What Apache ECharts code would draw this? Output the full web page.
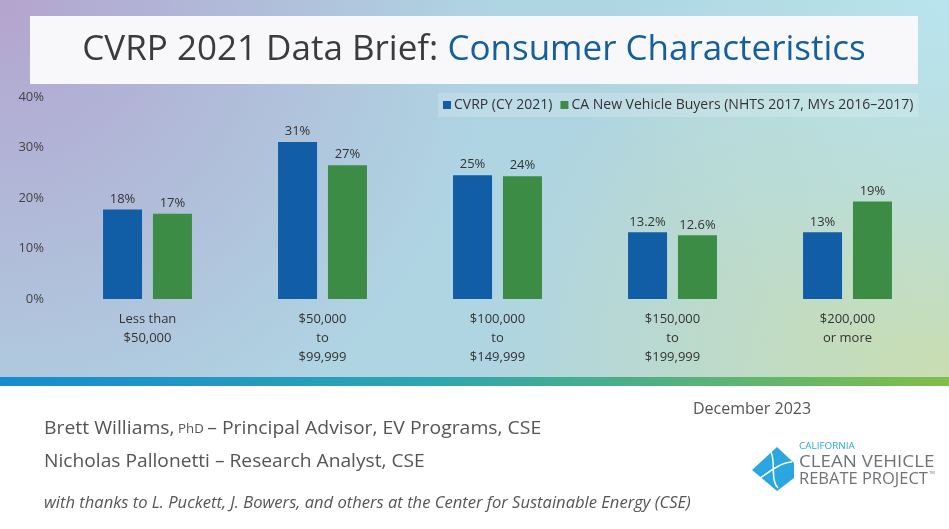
<!DOCTYPE html>
<html>
<head>
<meta charset="utf-8">
<script src="https://cdn.jsdelivr.net/npm/echarts@6/dist/echarts.min.js"></script>
<style>
html,body{margin:0;padding:0;background:#fff;}
#chart{width:949px;height:529px;}
</style>
</head>
<body>
<div id="chart"></div>
<script>
// ---- data ----
const categories = ['Less than\n$50,000', '$50,000\nto\n$99,999', '$100,000\nto\n$149,999', '$150,000\nto\n$199,999', '$200,000\nor more'];
const seriesNames = ['CVRP (CY 2021)', 'CA New Vehicle Buyers (NHTS 2017, MYs 2016\u20132017)'];
const cvrpValues = [17.7, 31.1, 24.5, 13.2, 13.2];
const caBuyerValues = [16.9, 26.5, 24.3, 12.6, 19.3];
const cvrpLabels = ['18%', '31%', '25%', '13.2%', '13%'];
const caBuyerLabels = ['17%', '27%', '24%', '12.6%', '19%'];
const yTickValues = [0, 10, 20, 30, 40];
const titleDark = 'CVRP 2021 Data Brief: ';
const titleBlue = 'Consumer Characteristics';
const footerDate = 'December 2023';
const footerLine1a = 'Brett Williams,';
const footerLine1b = 'PhD';
const footerLine1c = '\u2013 Principal Advisor, EV Programs, CSE';
const footerLine2 = 'Nicholas Pallonetti \u2013 Research Analyst, CSE';
const footerThanks = 'with thanks to L. Puckett, J. Bowers, and others at the Center for Sustainable Energy (CSE)';
const logoTop = 'CALIFORNIA';
const logoLine1 = 'CLEAN VEHICLE';
const logoLine2 = 'REBATE PROJECT';

const FONT = '"Open Sans", "DejaVu Sans", sans-serif';
const BLUE = '#125ea6';
const GREEN = '#3d8c45';
const FOOT = '#555555';

const chart = echarts.init(document.getElementById('chart'), null, {renderer: 'canvas'});

const option = {
  animation: false,
  textStyle: {fontFamily: FONT},
  graphic: [
    // background
    {type: 'rect', z: -10, silent: true, shape: {x: 0, y: 0, width: 949, height: 386},
      style: {fill: '#afd5e3'}},
    {type: 'rect', z: -9, silent: true, shape: {x: 0, y: 0, width: 949, height: 386},
      style: {fill: {type: 'radial', x: 1, y: 1, r: 1.2, colorStops: [
        {offset: 0, color: 'rgba(202,222,178,1)'}, {offset: 0.3, color: 'rgba(200,222,182,0.8)'}, {offset: 1, color: 'rgba(200,222,182,0)'}]}}},
    {type: 'rect', z: -8, silent: true, shape: {x: 0, y: 0, width: 949, height: 386},
      style: {fill: {type: 'radial', x: 0, y: 0, r: 1.3, colorStops: [
        {offset: 0, color: 'rgba(180,164,206,1)'}, {offset: 0.3, color: 'rgba(178,170,210,0.8)'}, {offset: 1, color: 'rgba(178,172,210,0)'}]}}},
    {type: 'rect', z: -7, silent: true, shape: {x: 0, y: 0, width: 949, height: 386},
      style: {fill: {type: 'radial', x: 1, y: 0, r: 0.9, colorStops: [
        {offset: 0, color: 'rgba(185,228,240,0.9)'}, {offset: 1, color: 'rgba(185,228,240,0)'}]}}},
    // gradient strip
    {type: 'rect', z: -6, silent: true, shape: {x: 0, y: 377, width: 949, height: 9},
      style: {fill: {type: 'linear', x: 0, y: 0, x2: 1, y2: 0, colorStops: [
        {offset: 0, color: '#168bd0'}, {offset: 0.45, color: '#2ca6b0'}, {offset: 1, color: '#80be48'}]}}},
    // title box
    {type: 'rect', z: 1, silent: true, shape: {x: 30, y: 16, width: 888, height: 68},
      style: {fill: '#f8f8fa'}},
    {type: 'text', z: 2, silent: true, x: 474, y: 50, scaleX: 1.0,
      style: {text: '{a|' + titleDark + '}{b|' + titleBlue + '}', align: 'center', verticalAlign: 'middle',
        rich: {a: {fontFamily: FONT, fontSize: 35, fill: '#3b3b3b', color: '#3b3b3b'},
               b: {fontFamily: FONT, fontSize: 35, fill: '#135f9f', color: '#135f9f'}}}},
    // footer
    {type: 'text', silent: true, x: 693, y: 409, scaleX: 1.0,
      style: {text: footerDate, fontFamily: FONT, fontSize: 16, fill: FOOT, verticalAlign: 'middle'}},
    {type: 'text', silent: true, x: 44, y: 429, scaleX: 1.02,
      style: {text: '{a|' + footerLine1a + '}{s| ' + footerLine1b + ' }{a|' + footerLine1c + '}', verticalAlign: 'middle',
        rich: {a: {fontFamily: FONT, fontSize: 19, color: FOOT, fill: FOOT}, s: {fontFamily: FONT, fontSize: 13, color: FOOT, fill: FOOT}}}},
    {type: 'text', silent: true, x: 44, y: 462, scaleX: 1.01,
      style: {text: footerLine2, fontFamily: FONT, fontSize: 19, fill: FOOT, verticalAlign: 'middle'}},
    {type: 'text', silent: true, x: 44, y: 503, scaleX: 1.035,
      style: {text: footerThanks, fontFamily: FONT, fontSize: 16, fontStyle: 'italic', fill: FOOT, verticalAlign: 'middle'}},
    // logo
    {type: 'polygon', silent: true, shape: {points: [[752, 470], [777, 447], [794, 463], [794, 478], [777, 491]]},
      style: {fill: '#2aa7e1'}},
    {type: 'bezierCurve', silent: true, shape: {x1: 760, y1: 478, x2: 792, y2: 462, cpx1: 772, cpy1: 470, cpx2: 782, cpy2: 462},
      style: {stroke: '#ffffff', lineWidth: 1.5, fill: null}},
    {type: 'bezierCurve', silent: true, shape: {x1: 771, y1: 452, x2: 778, y2: 488, cpx1: 776, cpy1: 462, cpx2: 770, cpy2: 480},
      style: {stroke: '#ffffff', lineWidth: 1.5, fill: null}},
    {type: 'text', silent: true, x: 799, y: 446, scaleX: 1.1,
      style: {text: logoTop, fontFamily: FONT, fontSize: 9, fill: '#2aa7e1', verticalAlign: 'middle'}},
    {type: 'text', silent: true, x: 799, y: 462, scaleX: 1.17,
      style: {text: logoLine1, fontFamily: FONT, fontSize: 16, fill: '#707376', verticalAlign: 'middle'}},
    {type: 'text', silent: true, x: 799, y: 479, scaleX: 1.03,
      style: {text: logoLine2, fontFamily: FONT, fontSize: 16, fill: '#707376', verticalAlign: 'middle'}},
    {type: 'text', silent: true, x: 929, y: 471,
      style: {text: 'TM', fontFamily: FONT, fontSize: 4, fill: '#707376'}}
  ],
  legend: {
    data: seriesNames,
    left: 438, top: 93,
    itemWidth: 8, itemHeight: 8, itemGap: 8,
    icon: 'rect',
    padding: [5, 5],
    backgroundColor: 'rgba(255,255,255,0.18)',
    textStyle: {fontFamily: FONT, fontSize: 14, color: '#333', padding: [0, 0, 0, -2]}
  },
  grid: {left: 60, right: 14, top: 97, bottom: 230, containLabel: false},
  xAxis: {
    type: 'category', data: categories,
    axisLine: {show: false}, axisTick: {show: false},
    axisLabel: {fontFamily: FONT, fontSize: 13, color: '#333', lineHeight: 19, margin: 11, interval: 0}
  },
  yAxis: {
    type: 'value', min: yTickValues[0], max: yTickValues[yTickValues.length - 1], interval: 10,
    splitLine: {show: false}, axisLine: {show: false}, axisTick: {show: false},
    axisLabel: {fontFamily: FONT, fontSize: 13, color: '#444', margin: 16, formatter: v => v + '%'}
  },
  series: [
    {name: seriesNames[0], type: 'bar', data: cvrpValues, barWidth: 39, barGap: '28%',
      itemStyle: {color: BLUE},
      label: {show: true, position: 'top', distance: 4, fontFamily: FONT, fontSize: 13, color: '#333',
        formatter: p => cvrpLabels[p.dataIndex]}},
    {name: seriesNames[1], type: 'bar', data: caBuyerValues, barWidth: 39,
      itemStyle: {color: GREEN},
      label: {show: true, position: 'top', distance: 4, fontFamily: FONT, fontSize: 13, color: '#333',
        formatter: p => caBuyerLabels[p.dataIndex]}}
  ]
};
chart.setOption(option);
</script>
</body>
</html>
